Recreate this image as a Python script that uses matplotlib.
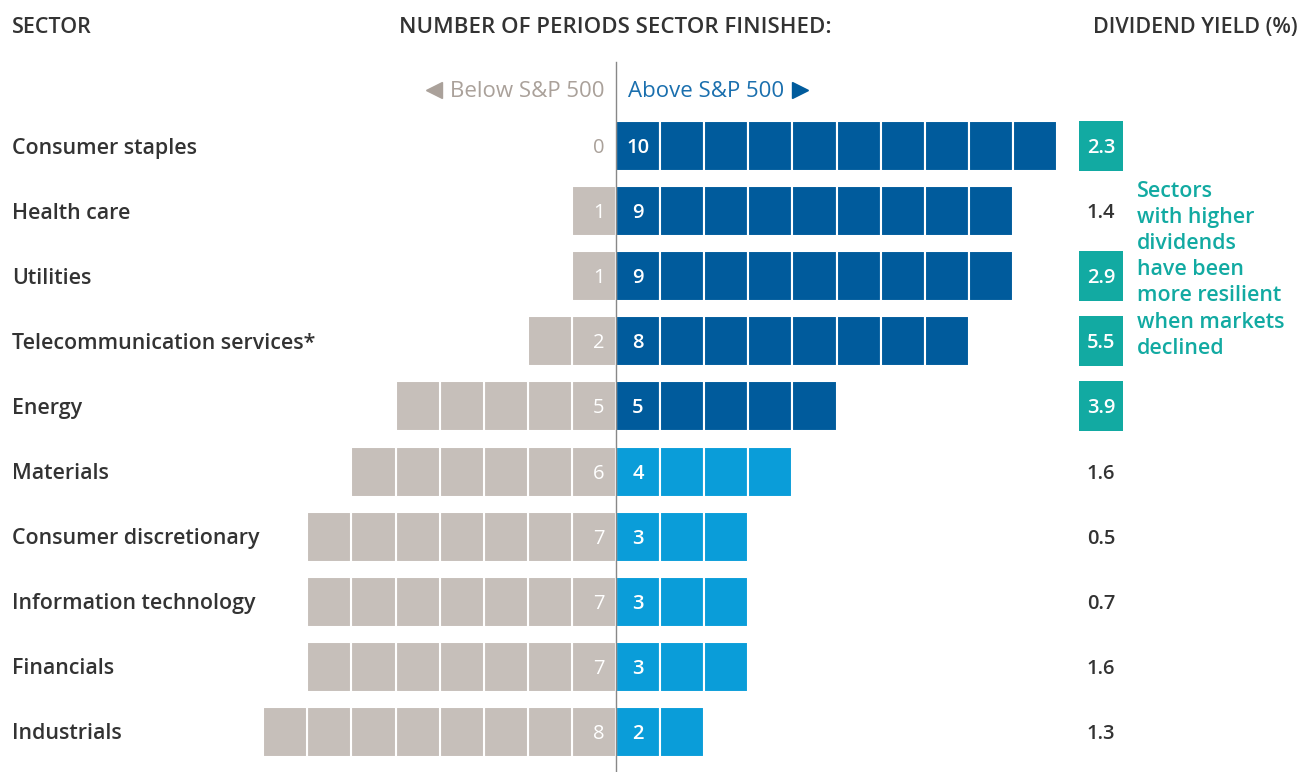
import numpy as np
import matplotlib.pyplot as plt

plt.rcParams['font.family'] = ['Open Sans', 'DejaVu Sans']

sectors = ["Consumer staples", "Health care", "Utilities", "Telecommunication services*",
           "Energy", "Materials", "Consumer discretionary", "Information technology",
           "Financials", "Industrials"]
above = [10, 9, 9, 8, 5, 4, 3, 3, 3, 2]
below = [0, 1, 1, 2, 5, 6, 7, 7, 7, 8]
dividend = [2.3, 1.4, 2.9, 5.5, 3.9, 1.6, 0.5, 0.7, 1.6, 1.3]

DARK_BLUE = "#005b9c"
LIGHT_BLUE = "#0a9dd9"
GREY = "#c6bfba"
GREY_TEXT = "#aaa19a"
TEAL = "#12aaa2"
TEXT = "#333333"

W, H = 1312, 772
CELL = 44.1      # pixels per period
X0 = 616         # pixel of the zero line
ROW = 65.1       # pixels per row
Y0 = 146         # pixel of first row centre
NUDGE = 2 / ROW  # text sits a touch lower than the mathematical centre


def px_x(p):
    return (p - X0) / CELL


def px_y(p):
    return (p - Y0) / ROW


fig = plt.figure(figsize=(W / 100, H / 100), dpi=100)
ax = fig.add_axes([0, 0, 1, 1])
ax.set_xlim(px_x(0), px_x(W))
ax.set_ylim(px_y(H), px_y(0))
ax.axis("off")

bar_h = 50 / ROW
for i, sector in enumerate(sectors):
    a, b = above[i], below[i]
    ty = i + NUDGE
    color = DARK_BLUE if a >= b else LIGHT_BLUE
    ax.barh([i] * a, 1, left=np.arange(a), height=bar_h, color=color,
            edgecolor="white", linewidth=1.5, zorder=2)
    if b:
        ax.barh([i] * b, 1, left=-np.arange(1, b + 1), height=bar_h, color=GREY,
                edgecolor="white", linewidth=1.5, zorder=2)
    ax.text(0.5, ty, str(a), color="white", fontsize=14.5, fontweight="semibold",
            ha="center", va="center", zorder=3)
    ax.text(-0.26, ty, str(b), color="white" if b else GREY_TEXT, fontsize=14.5,
            ha="right", va="center", zorder=3)
    ax.text(px_x(12), ty, sector, color=TEXT, fontsize=15.4, fontweight="semibold",
            ha="left", va="center")

    # dividend yield column
    d = dividend[i]
    if d >= 2:
        ax.bar(11, bar_h, bottom=i - bar_h / 2, width=1, color=TEAL, zorder=2)
        ax.text(11, ty, f"{d:.1f}", color="white", fontsize=14.5, fontweight="semibold",
                ha="center", va="center", zorder=3)
    else:
        ax.text(11, ty, f"{d:.1f}", color=TEXT, fontsize=14.5, fontweight="semibold",
                ha="center", va="center")

# zero line
ax.plot([0, 0], [px_y(62), px_y(H)], color="#888888", lw=1, zorder=4)

# headers
hy = px_y(27)
ax.text(px_x(12), hy, "SECTOR", color=TEXT, fontsize=15.5, fontweight="semibold",
        ha="left", va="center")
ax.text(px_x(615), hy, "NUMBER OF PERIODS SECTOR FINISHED:", color=TEXT, fontsize=16,
        fontweight="semibold", ha="center", va="center")
ax.text(px_x(1298), hy, "DIVIDEND YIELD (%)", color=TEXT, fontsize=15.5,
        fontweight="semibold", ha="right", va="center")

# direction labels
ly = px_y(91)
ax.text(px_x(604), ly, "Below S&P 500", color=GREY_TEXT, fontsize=16,
        ha="right", va="center")
ax.plot(px_x(434), px_y(90), marker="<", color=GREY_TEXT, markersize=12)
ax.text(px_x(628), ly, "Above S&P 500", color="#1a6fae", fontsize=16,
        ha="left", va="center")
ax.plot(px_x(800), px_y(90), marker=">", color=DARK_BLUE, markersize=12)

# annotation
ax.text(px_x(1137), px_y(181),
        "Sectors\nwith higher\ndividends\nhave been\nmore resilient\nwhen markets\ndeclined",
        color=TEAL, fontsize=15.4, fontweight="semibold", ha="left", va="top", linespacing=1.32)

fig.savefig("out.png", dpi=100)
